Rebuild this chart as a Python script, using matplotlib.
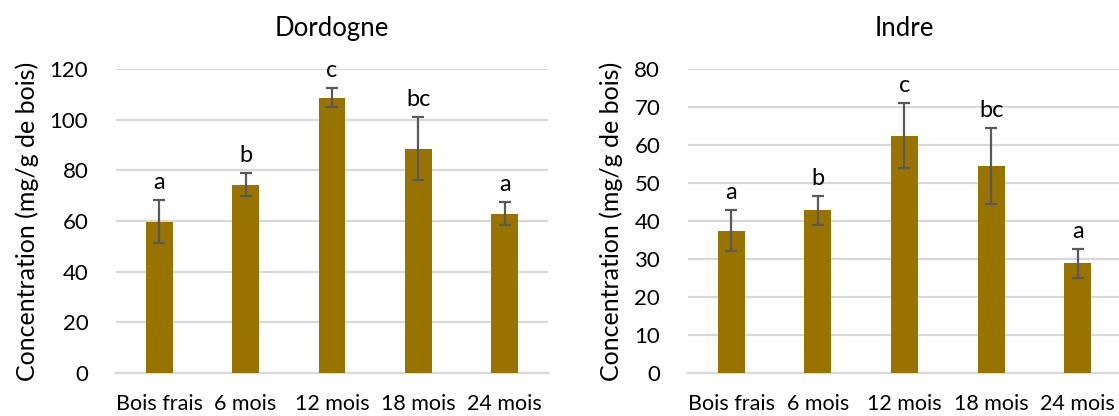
import numpy as np
import matplotlib.pyplot as plt

plt.rcParams['font.family'] = ['Lato', 'DejaVu Sans']

categories = ['Bois frais', '6 mois', '12 mois', '18 mois', '24 mois']

# Dordogne
dordogne_mean = [59.7, 74.3, 108.7, 88.5, 62.9]
dordogne_err = [8.4, 4.6, 3.7, 12.4, 4.4]
dordogne_letters = ['a', 'b', 'c', 'bc', 'a']

# Indre
indre_mean = [37.4, 42.8, 62.4, 54.5, 28.9]
indre_err = [5.4, 3.8, 8.6, 10.0, 3.8]
indre_letters = ['a', 'b', 'c', 'bc', 'a']

bar_color = '#997300'
err_color = '#595959'
grid_color = '#d9d9d9'

fig = plt.figure(figsize=(11.19, 4.16), dpi=100)
ax1 = fig.add_axes([0.1037, 0.1034, 0.386, 0.731])
ax2 = fig.add_axes([0.6148, 0.1034, 0.387, 0.731])


def draw(ax, title, means, errs, letters, ymax, step):
    x = np.arange(len(categories))
    ax.bar(x, means, width=0.31, color=bar_color, zorder=3,
           yerr=errs, error_kw=dict(ecolor=err_color, elinewidth=1.6,
                                     capsize=4.5, capthick=1.6, zorder=4))
    for xi, m, e, lab in zip(x, means, errs, letters):
        ax.annotate(lab, (xi, m + e), xytext=(0, 8), textcoords='offset points',
                    ha='center', va='baseline', fontsize=17, color='black')
    ax.set_xlim(-0.5, len(categories) - 0.5)
    ax.set_ylim(0, ymax)
    ax.set_yticks(np.arange(0, ymax + 1, step))
    ax.set_xticks(x)
    ax.set_xticklabels(categories, fontsize=15.5)
    ax.tick_params(axis='y', labelsize=16, length=0, pad=20)
    ax.tick_params(axis='x', length=0, pad=15)
    ax.yaxis.grid(True, color=grid_color, linewidth=1.6, zorder=0)
    ax.set_axisbelow(True)
    for s in ['top', 'right', 'left']:
        ax.spines[s].set_visible(False)
    ax.spines['bottom'].set_color(grid_color)
    ax.spines['bottom'].set_linewidth(1.6)
    ax.set_ylabel('Concentration (mg/g de bois)', fontsize=18, labelpad=8)
    ax.set_title(title, fontsize=18.5, pad=24)


draw(ax1, 'Dordogne', dordogne_mean, dordogne_err, dordogne_letters, 120, 20)
draw(ax2, 'Indre', indre_mean, indre_err, indre_letters, 80, 10)

fig.savefig('out.png', dpi=100, facecolor='white')
